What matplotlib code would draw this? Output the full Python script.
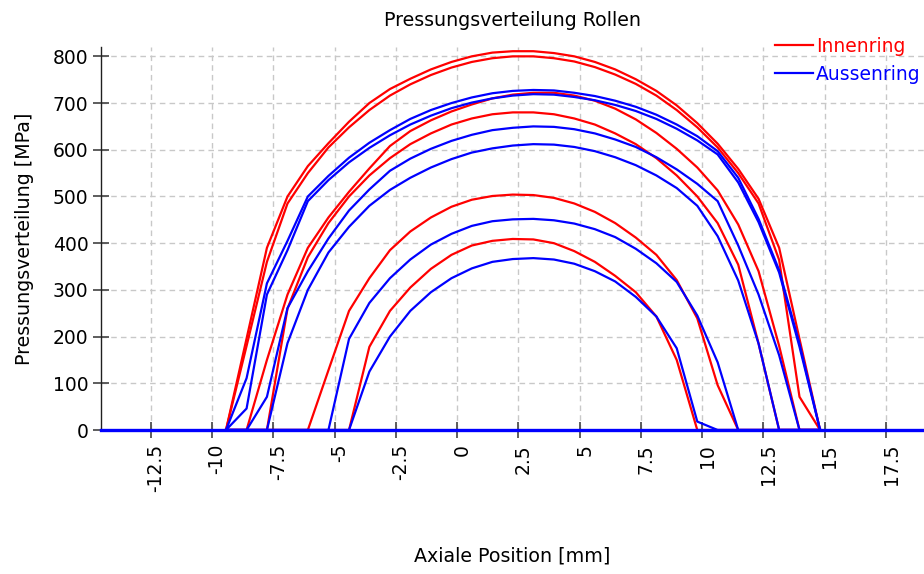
import matplotlib
matplotlib.use("Agg")
import matplotlib.pyplot as plt
import matplotlib.transforms as mtransforms
from matplotlib.ticker import FixedLocator, FuncFormatter

# ---- data (slice positions along the roller axis, mm) ----
axial_pos = [-9.43, -8.59, -7.76, -6.92, -6.09, -5.25, -4.41, -3.58, -2.74, -1.91,
             -1.07, -0.23, 0.60, 1.44, 2.27, 3.11, 3.95, 4.78, 5.62, 6.45,
             7.29, 8.13, 8.96, 9.80, 10.63, 11.47, 12.30, 13.14, 13.97, 14.81]

# Innenring pressure curves [MPa]
inner_1 = [0, 196, 390, 500, 565, 614, 660, 700, 730, 752, 772, 788, 800, 808, 811,
           811, 807, 800, 788, 772, 751, 726, 695, 657, 613, 559, 495, 390, 195, 0]
inner_2 = [0, 180, 360, 485, 550, 605, 648, 685, 716, 740, 760, 776, 788, 796, 800,
           800, 796, 789, 777, 761, 741, 716, 685, 648, 605, 550, 485, 364, 71, 0]
inner_3 = [0, 0, 150, 290, 390, 455, 510, 560, 608, 640, 663, 682, 697, 710, 718,
           722, 722, 716, 705, 688, 665, 636, 602, 562, 513, 440, 340, 180, 0, 0]
inner_4 = [0, 0, 0, 260, 370, 443, 500, 545, 582, 612, 635, 654, 667, 676, 680,
           680, 676, 667, 654, 635, 612, 582, 545, 500, 443, 354, 185, 0, 0, 0]
inner_5 = [0, 0, 0, 0, 0, 128, 255, 325, 385, 425, 455, 478, 493, 501, 504,
           503, 497, 485, 467, 443, 412, 375, 321, 239, 96, 0, 0, 0, 0, 0]
inner_6 = [0, 0, 0, 0, 0, 0, 0, 178, 255, 305, 345, 375, 395, 405, 409,
           408, 400, 383, 360, 330, 295, 243, 150, 0, 0, 0, 0, 0, 0, 0]

# Aussenring pressure curves [MPa]
outer_1 = [0, 111, 314, 405, 500, 544, 583, 615, 642, 666, 685, 700, 712, 721, 726,
           728, 727, 722, 715, 705, 692, 675, 654, 629, 597, 540, 452, 342, 185, 0]
outer_2 = [0, 46, 290, 385, 490, 535, 573, 604, 631, 654, 673, 689, 701, 710, 716,
           719, 718, 713, 706, 696, 683, 666, 645, 620, 590, 530, 445, 337, 178, 0]
outer_3 = [0, 0, 71, 261, 340, 410, 470, 515, 555, 581, 602, 619, 632, 642, 647,
           650, 649, 644, 635, 622, 606, 584, 558, 527, 490, 395, 290, 160, 0, 0]
outer_4 = [0, 0, 0, 186, 300, 380, 435, 480, 514, 540, 562, 580, 594, 603, 609,
           612, 611, 606, 597, 584, 567, 545, 518, 480, 415, 320, 185, 0, 0, 0]
outer_5 = [0, 0, 0, 0, 0, 0, 195, 272, 325, 365, 397, 420, 437, 447, 451,
           452, 449, 442, 430, 413, 388, 357, 317, 245, 145, 0, 0, 0, 0, 0]
outer_6 = [0, 0, 0, 0, 0, 0, 0, 125, 200, 255, 295, 325, 346, 360, 366,
           368, 365, 356, 340, 318, 285, 243, 175, 18, 0, 0, 0, 0, 0, 0]

inner_curves = [inner_1, inner_2, inner_3, inner_4, inner_5, inner_6]
outer_curves = [outer_1, outer_2, outer_3, outer_4, outer_5, outer_6]

x_ticks = [-12.5, -10, -7.5, -5, -2.5, 0, 2.5, 5, 7.5, 10, 12.5, 15, 17.5]
y_ticks = [0, 100, 200, 300, 400, 500, 600, 700, 800]
x_limits = (-14.53, 19.05)
y_limits = (0, 820)

series_names = ["Innenring", "Aussenring"]
RED = "#ff0000"
BLUE = "#0000ff"

plt.rcParams["font.family"] = ["DejaVu Sans"]

fig = plt.figure(figsize=(9.24, 5.74), dpi=100)
ax = fig.add_axes([101 / 924, 144 / 574, 823 / 924, 383 / 574])

for i, y in enumerate(inner_curves):
    ax.plot(axial_pos, y, color=RED, lw=1.6, zorder=2,
            label=series_names[0] if i == 0 else None)
for i, y in enumerate(outer_curves):
    ax.plot(axial_pos, y, color=BLUE, lw=1.6, zorder=2.1,
            label=series_names[1] if i == 0 else None)

# zero pressure line along the whole axis
ax.axhline(0, color=BLUE, lw=2.4, zorder=3, clip_on=False)

ax.set_xlim(*x_limits)
ax.set_ylim(*y_limits)
ax.xaxis.set_major_locator(FixedLocator(x_ticks))
ax.yaxis.set_major_locator(FixedLocator(y_ticks))
ax.xaxis.set_major_formatter(FuncFormatter(lambda v, p: f"{v:g}"))
ax.yaxis.set_major_formatter(FuncFormatter(lambda v, p: f"{v:g}"))

ax.grid(True, color="#c8c8c8", linestyle=(0, (4, 3)), linewidth=1.0, zorder=0)
ax.set_axisbelow(True)

for s in ["top", "right"]:
    ax.spines[s].set_visible(False)
ax.spines["left"].set_color("#202020")
ax.spines["left"].set_linewidth(1.0)
ax.spines["bottom"].set_visible(False)

ax.tick_params(axis="both", direction="inout", length=12, width=1.3,
               color="#505050", labelsize=13.5, labelcolor="#000000")
ax.tick_params(axis="y", pad=3)
ax.tick_params(axis="x", pad=4)
for lab in ax.get_xticklabels():
    lab.set_rotation(90)
    lab.set_va("top")
    lab.set_ha("center")
offset = mtransforms.ScaledTranslation(5 / 100, 0, fig.dpi_scale_trans)
for lab in ax.get_xticklabels():
    lab.set_transform(lab.get_transform() + offset)

ax.set_xlabel("Axiale Position [mm]", fontsize=13.7)
ax.xaxis.set_label_coords(0.5, -0.304)
ax.set_ylabel("Pressungsverteilung [MPa]", fontsize=13.7)
ax.yaxis.set_label_coords(-0.081, 0.5)

fig.text(512 / 924, 1 - 26 / 574, "Pressungsverteilung Rollen", ha="center",
         va="baseline", fontsize=13.7)

leg = ax.legend(loc="upper left", bbox_to_anchor=(775 / 924, 1 - 37 / 574),
                bbox_transform=fig.transFigure, frameon=False, fontsize=13.5,
                handlelength=2.0, handletextpad=0.2, labelspacing=0.46,
                borderpad=0, borderaxespad=0, labelcolor="linecolor")

fig.savefig("out.png", dpi=100)
